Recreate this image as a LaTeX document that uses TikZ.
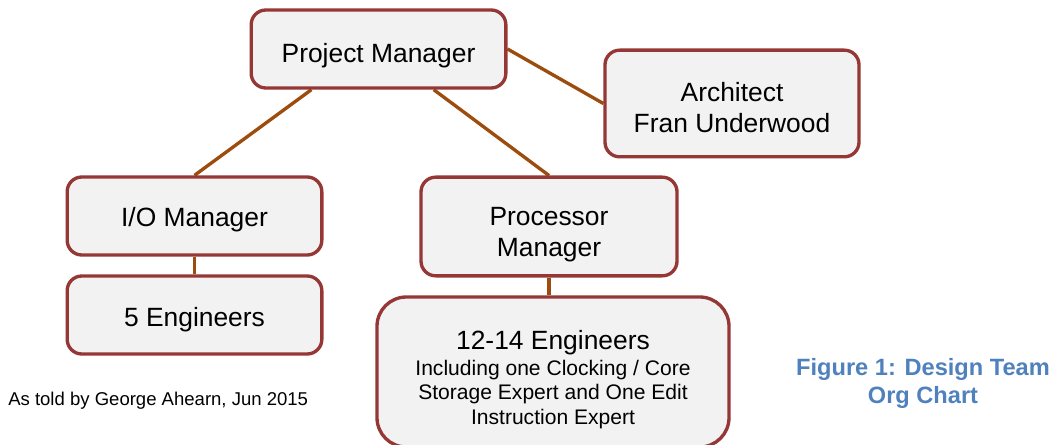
\documentclass[tikz,border=0pt]{standalone}
\usepackage{fontspec}
\setmainfont{Liberation Sans}
\usetikzlibrary{calc,backgrounds}
\definecolor{boxborder}{HTML}{953735}
\definecolor{boxfill}{HTML}{F2F2F2}
\definecolor{linkbrown}{HTML}{9C4C0C}
\definecolor{captionblue}{HTML}{4F81BD}
\newcommand{\bigsize}{\fontsize{19.8}{23.25}\selectfont}
\newcommand{\smallsize}{\fontsize{15.8}{18.2}\selectfont}
\begin{document}
\begin{tikzpicture}[x=0.75pt,y=-0.75pt,
  orgbox/.style={draw=boxborder,fill=boxfill,line width=2.5pt,rounded corners=11pt,inner sep=0pt},
  boxtext/.style={anchor=base,align=center,inner sep=0pt,font=\bigsize},
  link/.style={draw=linkbrown,line width=2.5pt}]
\useasboundingbox (0,0) rectangle (1055,445);

% boxes of the chart
\node[orgbox,minimum width=191pt,minimum height=58.5pt] (pm) at (378.5,49) {};
\node[orgbox,minimum width=190.5pt,minimum height=80pt] (arch) at (732,103.5) {};
\node[orgbox,minimum width=191pt,minimum height=58.5pt] (io) at (194.5,216) {};
\node[orgbox,minimum width=192pt,minimum height=74pt] (proc) at (549,226.5) {};
\node[orgbox,minimum width=191pt,minimum height=58.5pt] (eng5) at (194.5,315) {};
\node[orgbox,rounded corners=22pt,minimum width=264pt,minimum height=112.5pt] (eng12) at (553,372) {};

% box texts, placed on the baseline of their last line
\node[boxtext] (pmtxt) at (378.5,62.7) {Project Manager};
\node[boxtext] (archtxt) at (732,133) {Architect\\Fran Underwood};
\node[boxtext] (iotxt) at (194.5,226) {I/O Manager};
\node[boxtext] (proctxt) at (549,256) {Processor\\Manager};
\node[boxtext] (eng5txt) at (194.5,326.7) {5 Engineers};
\node[boxtext] (eng12txt) at (553,349.3) {12-14 Engineers};
\node[boxtext,font=\smallsize] (eng12note) at (553,424)
  {Including one Clocking / Core\\Storage Expert and One Edit\\Instruction Expert};

% connectors behind the boxes
\begin{scope}[on background layer]
\draw[link] ($(pm.south west)!0.24!(pm.south east)$) -- (io.north);
\draw[link] ($(pm.south west)!0.714!(pm.south east)$) -- (proc.north);
\draw[link] (pm.east) -- (arch.west);
\draw[link] (io.south) -- (eng5.north);
\draw[link] (proc.south) -- (proc.south |- eng12.north);
\end{scope}

% notes
\node[anchor=base west,inner sep=0pt,font=\fontsize{13.9}{16}\selectfont] (note) at (8,405)
  {As told by George Ahearn, Jun 2015};
\node[align=center,inner sep=0pt,text=captionblue,font=\fontsize{17.7}{21}\selectfont\bfseries] (caption) at (923,383)
  {Figure 1: Design Team\\Org Chart};
\end{tikzpicture}
\end{document}
